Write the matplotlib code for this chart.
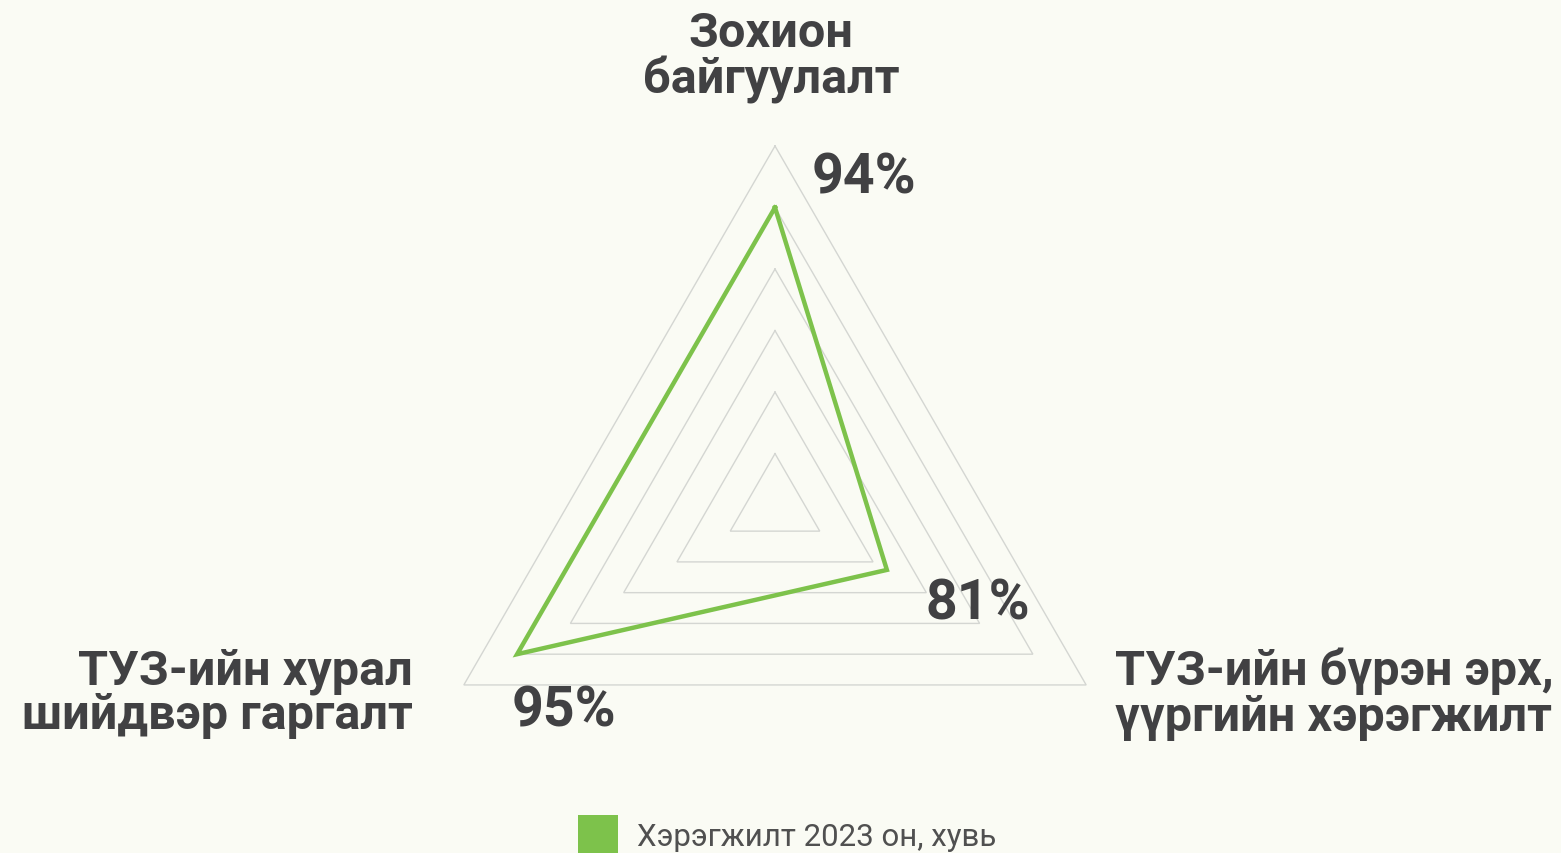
import numpy as np
import matplotlib
matplotlib.use("Agg")
import matplotlib.pyplot as plt
from matplotlib.patches import Rectangle

# ---- data ----
categories = ["Зохион\nбайгуулалт", "ТУЗ-ийн бүрэн эрх,\nүүргийн хэрэгжилт", "ТУЗ-ийн хурал\nшийдвэр гаргалт"]
value_labels = ["94%", "81%", "95%"]
values = [95.0, 81.3, 95.0]          # plotted positions read against the rings
ring_values = [75, 80, 85, 90, 95, 100]
r_min, r_max = 70.8, 100
series_name = "Хэрэгжилт 2023 он, хувь"

# ---- style ----
W, H = 1561, 854
BG = "#FAFBF4"
GREEN = "#7DC24B"
GRID = "#D4D6D2"
TXT = "#414143"
FONT = ["Roboto", "DejaVu Sans"]
plt.rcParams["font.family"] = FONT

fig = plt.figure(figsize=(W / 100, H / 100), dpi=100, facecolor=BG)

def fx(x):
    return x / W

def fy(y):
    return 1 - y / H

cx, cy, R = 775, 506.3, 359.3
ax = fig.add_axes([fx(cx - R), fy(cy + R), 2 * R / W, 2 * R / H], projection="polar")
ax.set_theta_zero_location("N")
ax.set_theta_direction(-1)
ax.set_ylim(r_min, r_max)
ax.grid(False)
ax.set_xticks([])
ax.set_yticks([])
ax.spines["polar"].set_visible(False)
ax.patch.set_alpha(0)

n = len(categories)
angles = np.arange(n) * 2 * np.pi / n
ang_closed = np.append(angles, angles[0])

for rv in ring_values:
    ax.plot(ang_closed, [rv] * (n + 1), color=GRID, lw=1.0, zorder=1,
            solid_joinstyle="miter", clip_on=False)

vals_closed = np.append(values, values[0])
ax.plot(ang_closed, vals_closed, color=GREEN, lw=3.2, zorder=3,
        solid_joinstyle="miter", clip_on=False)

# category labels
cat_fs = 35
top_lines = categories[0].split("\n")
fig.text(fx(771), fy(47), top_lines[0], ha="center", va="baseline", fontsize=cat_fs,
         fontweight="bold", color=TXT)
fig.text(fx(771), fy(94), top_lines[1], ha="center", va="baseline", fontsize=cat_fs,
         fontweight="bold", color=TXT)
r_lines = categories[1].split("\n")
fig.text(fx(1115), fy(685), r_lines[0], ha="left", va="baseline", fontsize=cat_fs,
         fontweight="bold", color=TXT)
fig.text(fx(1115), fy(731), r_lines[1], ha="left", va="baseline", fontsize=cat_fs,
         fontweight="bold", color=TXT)
l_lines = categories[2].split("\n")
fig.text(fx(413), fy(685), l_lines[0], ha="right", va="baseline", fontsize=cat_fs,
         fontweight="bold", color=TXT)
fig.text(fx(413), fy(729), l_lines[1], ha="right", va="baseline", fontsize=cat_fs,
         fontweight="bold", color=TXT)

# value labels
val_fs = 40
val_pos = [(812, 193), (925, 619), (512, 727)]
for lab, (x, y) in zip(value_labels, val_pos):
    fig.text(fx(x), fy(y), lab, ha="left", va="baseline", fontsize=val_fs,
             fontweight="bold", color=TXT)

# legend
fig.patches.append(Rectangle((fx(578), fy(856)), 40 / W, 40 / H, transform=fig.transFigure,
                             facecolor=GREEN, edgecolor="none"))
fig.text(fx(637), fy(846), series_name, ha="left", va="baseline", fontsize=22.5,
         color="#505050")

fig.savefig("out.png", dpi=100, facecolor=BG)
